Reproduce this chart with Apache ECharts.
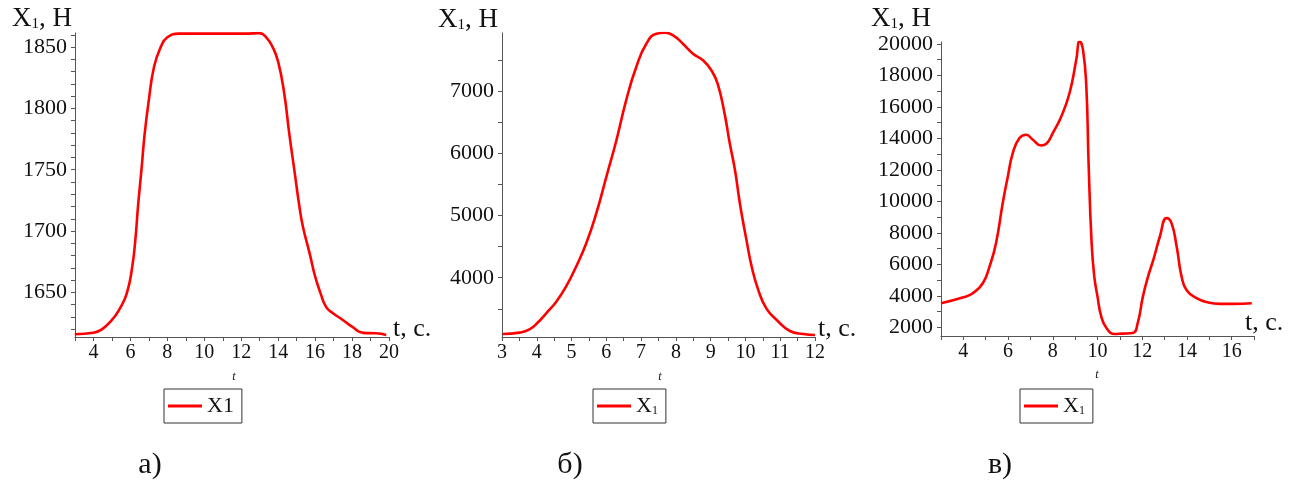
<!DOCTYPE html>
<html><head><meta charset="utf-8">
<script src="https://cdn.jsdelivr.net/npm/echarts@6/dist/echarts.min.js"></script>
<style>html,body{margin:0;padding:0;background:#fff}#c{width:1297px;height:482px}</style>
</head><body><div id="c"></div>
<script>
// ---- Panel а) ----
const tA = [2.99, 4.0, 4.47, 5.0, 5.38, 5.8, 6.1, 6.28, 6.41, 6.61, 6.77, 6.99, 7.28, 7.64, 8.0, 8.64, 10.0, 12.26, 12.98, 13.35, 13.7, 14.0, 14.33, 14.6, 14.9, 15.15, 15.34, 15.7, 16.0, 16.3, 16.6, 16.97, 17.5, 18.0, 18.6, 19.3, 19.85];
const xA = [1615.8, 1617, 1620, 1627.5, 1635.6, 1649, 1671, 1695, 1720, 1752, 1779, 1806, 1834, 1850, 1858, 1861, 1861, 1861, 1861.4, 1858, 1850, 1838, 1812, 1779.4, 1747, 1720, 1703.5, 1682, 1663, 1649, 1638, 1633, 1627.5, 1622, 1617, 1616.6, 1615.3];
const xTicksA = [4, 6, 8, 10, 12, 14, 16, 18, 20];
const yTicksA = [1650, 1700, 1750, 1800, 1850];

// ---- Panel б) ----
const tB = [3.02, 3.5, 3.79, 4.03, 4.27, 4.56, 4.84, 5.13, 5.42, 5.71, 6.0, 6.29, 6.57, 6.86, 7.15, 7.44, 7.68, 7.92, 8.2, 8.49, 8.78, 9.02, 9.2, 9.4, 9.55, 9.7, 9.84, 10.03, 10.18, 10.37, 10.6, 10.9, 11.28, 11.66, 12.0];
const xB = [3096, 3118, 3170, 3280, 3428, 3615, 3856, 4176, 4551, 5032, 5620, 6209, 6850, 7385, 7759, 7920, 7936, 7893, 7759, 7599, 7492, 7332, 7118, 6636, 6155, 5727, 5193, 4604, 4176, 3802, 3508, 3321, 3144, 3096, 3080];
const xTicksB = [3, 4, 5, 6, 7, 8, 9, 10, 11, 12];
const yTicksB = [4000, 5000, 6000, 7000];

// ---- Panel в) ----
const tC = [3.0, 4.0, 4.42, 4.87, 5.17, 5.46, 5.76, 5.99, 6.21, 6.51, 6.81, 7.11, 7.48, 7.71, 8.0, 8.38, 8.75, 9.05, 9.2, 9.35, 9.5, 9.6, 9.73, 9.85, 10.0, 10.17, 10.4, 10.77, 11.1, 11.58, 11.8, 12.03, 12.26, 12.5, 12.79, 13.09, 13.31, 13.54, 13.76, 13.98, 14.43, 14.96, 15.48, 16.08, 16.9];
const xC = [3528, 3909, 4164, 4800, 5860, 7344, 9888, 11584, 13068, 14022, 14234, 13915, 13555, 13661, 14340, 15400, 16884, 19004, 20170, 19640, 17308, 12500, 7557, 5300, 3947, 2675, 1957, 1576, 1600, 1640, 2276, 3947, 5220, 6300, 7768, 8934, 8616, 7132, 5224, 4376, 3846, 3570, 3485, 3485, 3528];
const xTicksC = [4, 6, 8, 10, 12, 14, 16];
const yTicksC = [2000, 4000, 6000, 8000, 10000, 12000, 14000, 16000, 18000, 20000];

const FONT = '"Liberation Serif","Times New Roman",serif';
const INK = '#111';
function pairs(t, v) { return t.map((x, i) => [x, v[i]]); }
function range(a, b, s) { const r = []; for (let v = a; v <= b + 1e-9; v += s) r.push(+v.toFixed(6)); return r; }

const panels = [
  { grid: { left: 75, top: 33, width: 314, height: 304 }, xmin: 3, xmax: 20, ymin: 1613.6, ymax: 1861.5,
    xt: xTicksA, xminor: range(3, 20, 1), yt: yTicksA, yminor: range(1620, 1860, 10), data: pairs(tA, xA) },
  { grid: { left: 502, top: 33, width: 313, height: 304 }, xmin: 3, xmax: 12, ymin: 3048, ymax: 7931,
    xt: xTicksB, xminor: range(3, 12, 0.5), yt: yTicksB, yminor: range(3500, 7500, 500), data: pairs(tB, xB) },
  { grid: { left: 941, top: 42, width: 313, height: 294 }, xmin: 3, xmax: 17, ymin: 1447, ymax: 20127,
    xt: xTicksC, xminor: range(3, 17, 1), yt: yTicksC, yminor: range(2000, 20000, 1000), data: pairs(tC, xC) }
];
const seriesNames = ['X1', 'X1 б', 'X1 в'];
const legendPos = [164, 593, 1020];
const plain = v => String(Math.round(v));

const option = {
  animation: false,
  backgroundColor: '#fff',
  grid: panels.map(p => Object.assign({ containLabel: false }, p.grid)),
  xAxis: panels.map((p, i) => ({
    type: 'value', gridIndex: i, min: p.xmin, max: p.xmax,
    axisLine: { show: true, onZero: false, lineStyle: { color: '#555', width: 1 } },
    axisTick: { show: true, length: 4, inside: false, customValues: p.xminor, lineStyle: { color: '#555' } },
    axisLabel: { customValues: p.xt, formatter: plain, fontFamily: FONT, fontSize: 20, color: INK, margin: 6 },
    splitLine: { show: false }
  })),
  yAxis: panels.map((p, i) => ({
    type: 'value', gridIndex: i, min: p.ymin, max: p.ymax,
    axisLine: { show: true, onZero: false, lineStyle: { color: '#555', width: 1 } },
    axisTick: { show: true, length: 4, inside: false, customValues: p.yminor, lineStyle: { color: '#555' } },
    axisLabel: { customValues: p.yt, formatter: plain, fontFamily: FONT, fontSize: 22, color: INK, margin: 8 },
    splitLine: { show: false }
  })),
  legend: panels.map((p, i) => ({
    data: [seriesNames[i]], left: legendPos[i], top: 389,
    orient: 'horizontal', icon: 'rect', itemWidth: 34, itemHeight: 3,
    borderColor: '#333', borderWidth: 1, padding: [6, 8, 6, 4], selectedMode: false,
    formatter: i === 0 ? 'X1' : '{x|X}{s|1}',
    textStyle: { fontFamily: FONT, fontSize: 22, color: INK,
      rich: { x: { fontFamily: FONT, fontSize: 22, color: INK }, s: { fontFamily: FONT, fontSize: 12, color: INK, verticalAlign: 'bottom' } } }
  })),
  series: panels.map((p, i) => ({
    name: seriesNames[i], type: 'line', xAxisIndex: i, yAxisIndex: i,
    data: p.data, smooth: 0.5, showSymbol: false, symbol: 'none',
    lineStyle: { color: '#ff0000', width: 2.6 }, itemStyle: { color: '#ff0000' }
  })),
  graphic: []
};

const yNamePos = [[12, 32], [438, 33], [871, 32]];
const tNamePos = [[393, 342], [818, 342], [1245, 336]];
const tSmallPos = [[234, 377], [660, 377], [1097, 375]];
const captions = ['а)', 'б)', 'в)'];
const capPos = [150, 570, 1000];
for (let i = 0; i < 3; i++) {
  option.graphic.push({ type: 'text', x: yNamePos[i][0], y: yNamePos[i][1],
    style: { text: '{a|X}{b|1}{a|, Н}', verticalAlign: 'bottom', align: 'left',
      rich: { a: { fontFamily: FONT, fontSize: 27, fill: INK }, b: { fontFamily: FONT, fontSize: 15, fill: INK, verticalAlign: 'bottom' } } } });
  option.graphic.push({ type: 'text', x: tNamePos[i][0], y: tNamePos[i][1],
    style: { text: 't, с.', fontFamily: FONT, fontSize: 26, fill: INK, verticalAlign: 'bottom', align: 'left' } });
  option.graphic.push({ type: 'text', x: tSmallPos[i][0], y: tSmallPos[i][1],
    style: { text: 't', fontFamily: FONT, fontSize: 12, fontStyle: 'italic', fill: INK, verticalAlign: 'middle', align: 'center' } });
  option.graphic.push({ type: 'text', x: capPos[i], y: 465,
    style: { text: captions[i], fontFamily: FONT, fontSize: 30, fill: INK, verticalAlign: 'middle', align: 'center' } });
}

const chart = echarts.init(document.getElementById('c'), null, { renderer: 'canvas' });
chart.setOption(option);
</script>
</body></html>
